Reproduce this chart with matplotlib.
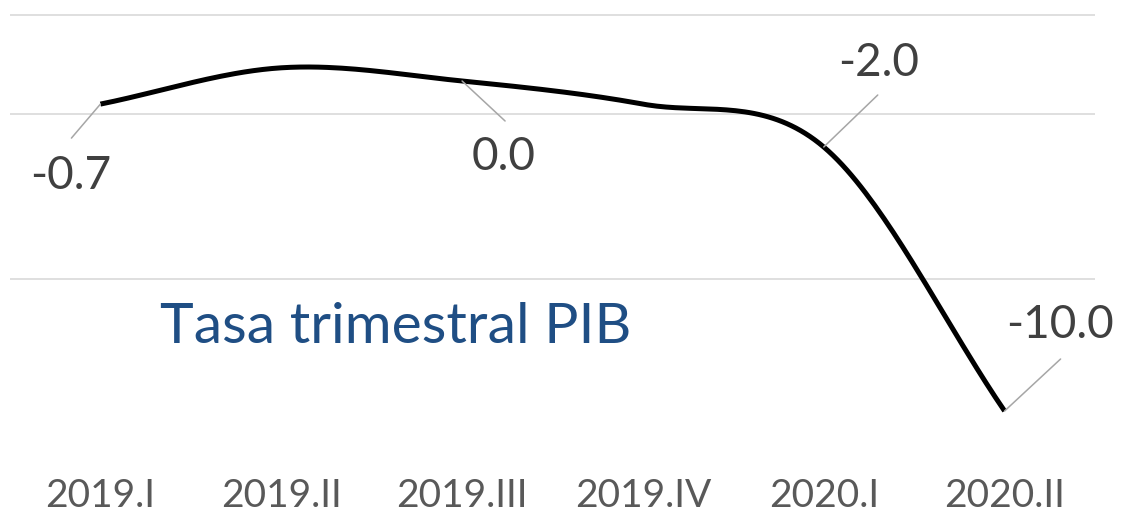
import numpy as np
import matplotlib.pyplot as plt

plt.rcParams['font.family'] = ['Lato', 'DejaVu Sans']

quarters = ["2019.I", "2019.II", "2019.III", "2019.IV", "2020.I", "2020.II"]
pib_rate = [-0.7, 0.4, 0.0, -0.7, -2.0, -10.0]
labelled = [0, 2, 4, 5]          # points that carry a data label
grid_values = [-6, -1, 2]
title = "Tasa trimestral PIB"

# leader end / label centre offsets in pixels from the point
leader_off = {0: (-29, -34), 2: (43, -40), 4: (54, 52), 5: (56, 52)}
label_off = {0: (-30, -72), 2: (42, -76), 4: (55, 84), 5: (55, 86)}


def smooth(xs, ys, n=40):
    # Catmull-Rom style smoothing, like the "smoothed line" option of a spreadsheet
    xs = np.asarray(xs, float)
    ys = np.asarray(ys, float)
    m = np.zeros_like(ys)
    m[1:-1] = (ys[2:] - ys[:-2]) / 2
    m[0] = ys[1] - ys[0]
    m[-1] = ys[-1] - ys[-2]
    px, py = [], []
    for i in range(len(xs) - 1):
        t = np.linspace(0, 1, n)
        h00 = 2 * t**3 - 3 * t**2 + 1
        h10 = t**3 - 2 * t**2 + t
        h01 = -2 * t**3 + 3 * t**2
        h11 = t**3 - t**2
        px.append(xs[i] + t * (xs[i + 1] - xs[i]))
        py.append(h00 * ys[i] + h10 * m[i] + h01 * ys[i + 1] + h11 * m[i + 1])
    return np.concatenate(px), np.concatenate(py)


fig = plt.figure(figsize=(11.22, 5.13), dpi=100)
ax = fig.add_axes([10 / 1122, (513 - 470) / 513, 1085 / 1122, 456 / 513])

x = np.arange(len(quarters))
sx, sy = smooth(x, pib_rate)
ax.plot(sx, sy, color="black", lw=3.6, solid_capstyle="butt", zorder=3)

ax.set_xlim(-0.5, 5.5)
ax.set_ylim(-(470 - 81) / 33, (81 - 14) / 33)
ax.set_yticks(grid_values)
ax.set_yticklabels([])
ax.grid(axis="y", color="#D9D9D9", lw=1.2)
ax.set_xticks(x)
ax.set_xticklabels(quarters, fontsize=28, color="#595959")
ax.tick_params(length=0, pad=6)
for s in ax.spines.values():
    s.set_visible(False)

for i in labelled:
    lx, ly = leader_off[i]
    ax.annotate("", xy=(x[i], pib_rate[i]), xytext=(lx, ly), textcoords="offset pixels",
                arrowprops=dict(arrowstyle="-", color="#A6A6A6", lw=1.1, shrinkA=0, shrinkB=0))
    tx, ty = label_off[i]
    ax.annotate(f"{pib_rate[i]:.1f}", xy=(x[i], pib_rate[i]), xytext=(tx, ty),
                textcoords="offset pixels", ha="center", va="center",
                fontsize=33, color="#404040")

fig.text(160 / 1122, (513 - 343) / 513, title, fontsize=41, color="#1F4E84",
         va="baseline", ha="left")

fig.savefig("out.png", dpi=100)
